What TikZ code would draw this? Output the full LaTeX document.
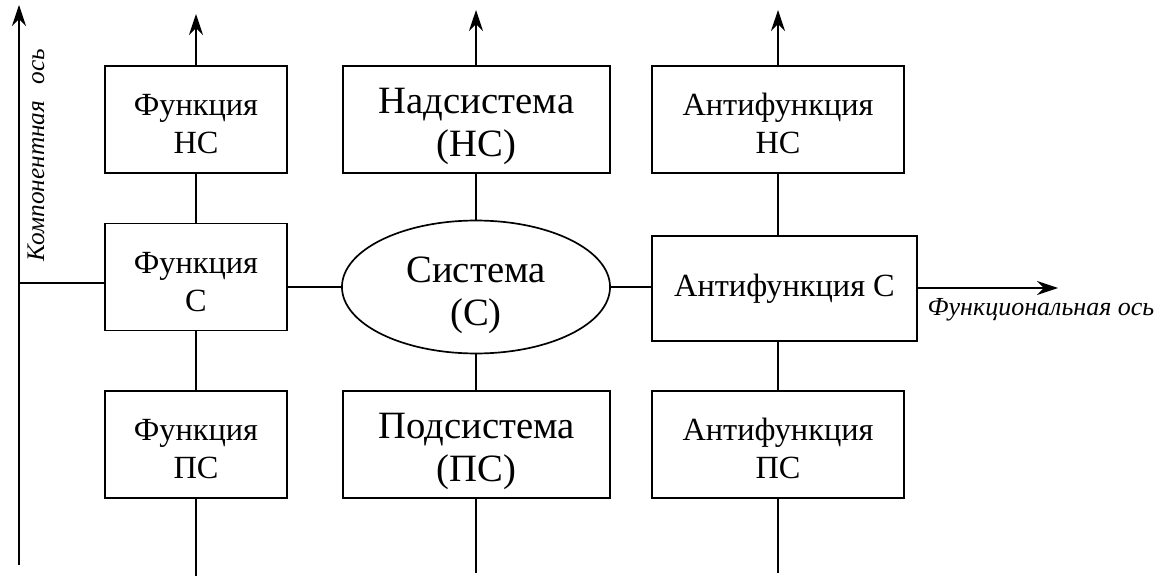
\documentclass[tikz,border=0pt]{standalone}
\usepackage{fontspec}
\setmainfont{Liberation Serif}
\usepackage{tikz}
\usetikzlibrary{arrows.meta, shapes.geometric}
\tikzset{
    funcbox/.style = {rectangle, minimum width=4.55cm, minimum height=2.675cm, text centered, align=center, draw=black, line width=1.2pt, font=\fontsize{23}{27}\selectfont, inner sep=0pt},
    sysbox/.style = {rectangle, minimum width=6.675cm, minimum height=2.675cm, text centered, align=center, draw=black, line width=1.2pt, font=\fontsize{27.5}{31}\selectfont, inner sep=0pt},
    antibox/.style = {rectangle, minimum width=6.3cm, minimum height=2.675cm, text centered, align=center, draw=black, line width=1.2pt, font=\fontsize{23}{27}\selectfont, inner sep=0pt},
    sysellipse/.style = {ellipse, minimum width=6.7cm, minimum height=3.125cm, text centered, align=center, draw=black, line width=1.2pt, font=\fontsize{27.5}{31}\selectfont, inner sep=0pt},
    axislabel/.style = {font=\itshape\fontsize{18.5}{22}\selectfont, inner sep=0pt},
    link/.style = {line width=1pt},
    arrow/.style = {line width=1.2pt, -{Stealth[length=15pt, width=10pt, inset=5pt]}}
}
\begin{document}
\begin{tikzpicture}[x=0.025cm, y=-0.025cm]
\useasboundingbox (0,0) rectangle (1162,576);
% boxes
\node (fns) [funcbox] at (196,119.5) {\rule{0pt}{22pt}Функция\\НС};
\node (fc)  [funcbox] at (196,277) {\rule{0pt}{22pt}Функция\\С};
\node (fps) [funcbox] at (196,444.5) {\rule{0pt}{22pt}Функция\\ПС};
\node (ns)  [sysbox] at (476.5,119.5) {\rule{0pt}{28pt}Надсистема\\(НС)};
\node (sys) [sysellipse] at (476,287) {\rule{0pt}{30pt}Система\\(С)};
\node (ps)  [sysbox] at (476.5,444.5) {\rule{0pt}{28pt}Подсистема\\(ПС)};
\node (ans) [antibox] at (778,119.5) {\rule{0pt}{22pt}Антифункция\\НС};
\node (ac)  [antibox, minimum width=6.625cm, minimum height=2.625cm] at (784.5,288.5) {Антифункция С};
\node (aps) [antibox] at (778,444.5) {\rule{0pt}{22pt}Антифункция\\ПС};
% axes
\coordinate (axB) at (19,565);
\coordinate (axT) at (19,5);
\coordinate (axO) at (19,283);
\coordinate (fxT) at (1058,288);
\draw [arrow] (axB) -- (axT);
\draw [link] (axO) -- (axO -| fc.west);
\draw [arrow] (ac.east |- fxT) -- (fxT);
\node (kl) [axislabel, font=\itshape\fontsize{18}{22}\selectfont, rotate=90] at (36,155) {Компонентная\hspace{0.4em} ось};
\node (fl) [axislabel] at (1041,310) {Функциональная ось};
% column 1
\coordinate (t1) at (196,14);
\coordinate (b1) at (196,576);
\draw [arrow] (fns.north) -- (t1);
\draw [link] (fns.south) -- (fc.north);
\draw [link] (fc.south) -- (fps.north);
\draw [link] (fps.south) -- (b1);
% column 2
\coordinate (t2) at (476,10);
\coordinate (b2) at (476,573);
\draw [arrow] (ns.north -| t2) -- (t2);
\draw [link] (ns.south -| t2) -- (sys.north);
\draw [link] (sys.south) -- (ps.north -| t2);
\draw [link] (ps.south -| t2) -- (b2);
% column 3
\coordinate (t3) at (778,10);
\coordinate (b3) at (778,573);
\draw [arrow] (ans.north) -- (t3);
\draw [link] (ans.south) -- (ans.south |- ac.north);
\draw [link] (aps.north |- ac.south) -- (aps.north);
\draw [link] (aps.south) -- (b3);
% horizontal links
\draw [link] (sys.west -| fc.east) -- (sys.west);
\draw [link] (sys.east) -- (sys.east -| ac.west);
\end{tikzpicture}
\end{document}
